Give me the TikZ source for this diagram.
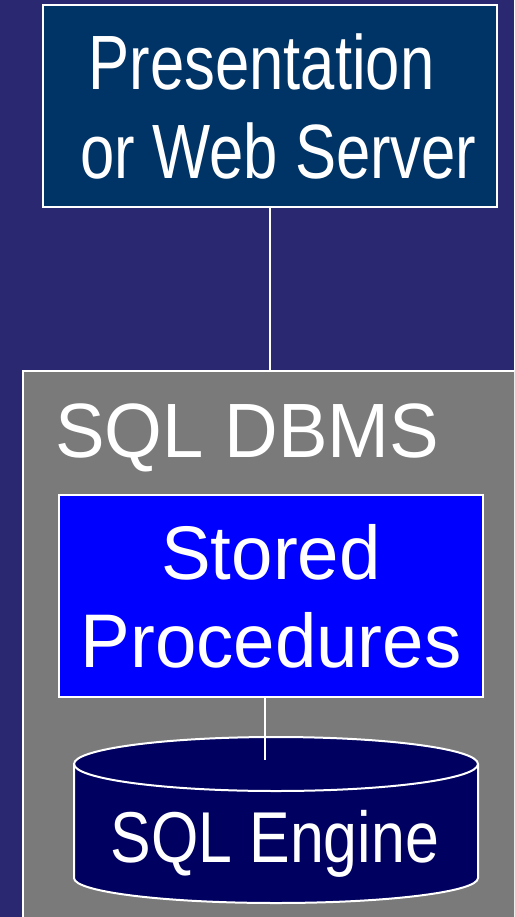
\documentclass[tikz,border=0pt]{standalone}
\usepackage{fontspec}
\setmainfont{Liberation Sans}
\newfontfamily\fWeb[FakeStretch=0.80]{Liberation Sans}
\newfontfamily\fDbms[FakeStretch=0.965]{Liberation Sans}
\newfontfamily\fSp[FakeStretch=0.98]{Liberation Sans}
\newfontfamily\fEng[FakeStretch=0.845]{Liberation Sans}
\definecolor{bgc}{RGB}{41,40,112}
\definecolor{webc}{RGB}{0,51,102}
\definecolor{dbmsc}{RGB}{122,122,122}
\definecolor{spc}{RGB}{0,0,255}
\definecolor{engc}{RGB}{0,0,96}
\tikzset{
  boxw/.style={draw=white, line width=2pt, inner sep=0pt, text=white, align=center},
  conn/.style={draw=white, line width=2pt},
}
\begin{document}
\begin{tikzpicture}[x=1pt,y=1pt]
\useasboundingbox (0,0) rectangle (514,-917);
\clip (0,0) rectangle (514,-917);
\fill[bgc] (0,0) rectangle (514,-917);
% SQL DBMS container
\node[boxw, fill=dbmsc, minimum width=520pt, minimum height=560pt, anchor=north west] (dbms) at (22,-370) {};
\node[text=white, inner sep=0pt, anchor=base west, font=\fDbms\fontsize{77}{89}\selectfont] (dbmslabel) at (55,-457) {SQL DBMS};
% Web server
\node[boxw, fill=webc, minimum width=454pt, minimum height=202pt, font=\fWeb\fontsize{77}{89}\selectfont] (web) at (270,-106) {Presentation\hspace*{17pt}\\\hspace*{17pt}or Web Server};
% Stored procedures
\node[boxw, fill=spc, minimum width=424pt, minimum height=202pt, font=\fSp\fontsize{76}{88}\selectfont] (sp) at (271,-596) {Stored\\Procedures};
% SQL Engine cylinder
\filldraw[fill=engc, draw=white, line width=2pt] (74,-764) -- (74,-878) arc (180:360:202 and 25) -- (478,-764) arc (0:180:202 and 27) -- cycle;
\draw[white, line width=2pt] (74,-764) arc (180:360:202 and 27);
\coordinate (engtop) at (265,-760);
\node[text=white, inner sep=0pt, anchor=base, font=\fEng\fontsize{72}{84}\selectfont] (eng) at (275,-862) {SQL Engine};
% connectors
\draw[conn] (web.south) -- (web.south |- dbms.north);
\draw[conn] (sp.south -| engtop) -- (engtop);
\end{tikzpicture}
\end{document}
